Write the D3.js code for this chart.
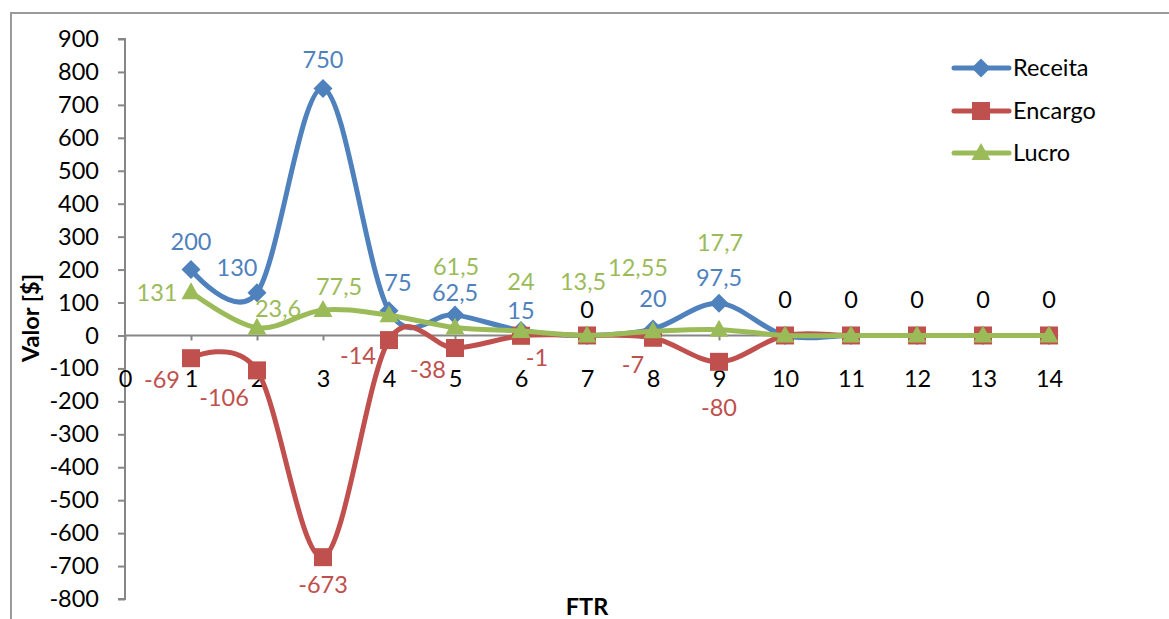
<!DOCTYPE html>
<html>
<head>
<meta charset="utf-8">
<script src="https://cdn.jsdelivr.net/npm/d3@7"></script>
<style>
  html, body { margin: 0; padding: 0; background: #fff; }
  svg { display: block; font-family: Lato, "Open Sans", sans-serif; }
</style>
</head>
<body>
<svg id="chart" width="1169" height="619"></svg>
<script>
// FTR steps on the horizontal axis
const ftr = [1, 2, 3, 4, 5, 6, 7, 8, 9, 10, 11, 12, 13, 14];

// Series values
const receita = [200, 130, 750, 75, 62.5, 15, 0, 20, 97.5, 0, 0, 0, 0, 0];
const encargo = [-69, -106, -673, -14, -38, -1, 0, -7, -80, 0, 0, 0, 0, 0];
const lucro   = [131, 23.6, 77.5, 61.5, 24, 13.5, 0, 12.55, 17.7, 0, 0, 0, 0, 0];

// Axis ticks
const yTicks = [-800, -700, -600, -500, -400, -300, -200, -100, 0, 100, 200, 300, 400, 500, 600, 700, 800, 900];
const xTicks = [0, 1, 2, 3, 4, 5, 6, 7, 8, 9, 10, 11, 12, 13, 14];

// Data-label placement relative to each point (pixels)
const receitaLabelOffsets = [[0,-28],[-20,-25],[0,-29],[9,-28],[0,-22],[0,-20],[0,-26],[0,-30],[0,-26],[0,-36],[0,-36],[0,-36],[0,-36],[0,-36]];
const encargoLabelOffsets = [[-29,22],[-33,27],[0,28],[-31,16],[-27,22],[16,22],null,[-20,27],[0,46],null,null,null,null,null];
const lucroLabelOffsets   = [[-34,0],[21,-19],[16,-23],[67,-48],[66,-46],[62,-49],null,[-15,-64],[1,-87],null,null,null,null,null];

const BLUE = "#4F81BD", RED = "#C0504D", GREEN = "#9BBB59", AXIS = "#868686";
const FONT_SIZE = 23.5;

const svg = d3.select("#chart");

const x = d3.scaleLinear().domain([0, 14]).range([125, 1049]);
const y = d3.scaleLinear().domain([-800, 900]).range([599, 39]);

const fmt = v => String(v).replace(".", ",");

// Chart frame (top and left edges)
svg.append("line").attr("x1", 11).attr("x2", 1169).attr("y1", 13).attr("y2", 13)
  .attr("stroke", "#9a9a9a").attr("stroke-width", 2);
svg.append("line").attr("x1", 11).attr("x2", 11).attr("y1", 12).attr("y2", 619)
  .attr("stroke", "#9a9a9a").attr("stroke-width", 2);

// Y axis
const yAxis = svg.append("g").attr("transform", `translate(${x(0)},0)`)
  .call(d3.axisLeft(y).tickValues(yTicks).tickSize(7).tickPadding(19).tickFormat(d => d));
yAxis.select(".domain").attr("stroke", AXIS).attr("stroke-width", 2).attr("d", `M-7,${y(-800)}H0V${y(900)}H-7`);
yAxis.selectAll(".tick line").attr("stroke", AXIS).attr("stroke-width", 2);
yAxis.selectAll(".tick text").attr("font-size", FONT_SIZE).attr("fill", "#000")
  .attr("font-family", "Lato, sans-serif");

// X axis along zero
const xAxis = svg.append("g").attr("transform", `translate(0,${y(0)})`)
  .call(d3.axisBottom(x).tickValues(xTicks).tickSize(5).tickFormat(d => d));
xAxis.select(".domain").attr("stroke", AXIS).attr("stroke-width", 2).attr("d", `M${x(0)},0H${x(14)}`);
xAxis.selectAll(".tick line").attr("stroke", AXIS).attr("stroke-width", 2);
xAxis.selectAll(".tick text").attr("font-size", FONT_SIZE).attr("fill", "#000")
  .attr("font-family", "Lato, sans-serif")
  .attr("y", 43).attr("dy", "0.35em");

// Axis titles
svg.append("text").attr("transform", `translate(31,318) rotate(-90)`)
  .attr("text-anchor", "middle").attr("dy", "0.35em")
  .attr("font-size", FONT_SIZE).attr("font-weight", "bold").text("Valor [$]");
svg.append("text").attr("x", x(7)).attr("y", 607).attr("dy", "0.35em")
  .attr("text-anchor", "middle").attr("font-size", FONT_SIZE).attr("font-weight", "bold").text("FTR");

// Marker shapes
const markerPath = {
  diamond: "M0,-9.5L9.5,0L0,9.5L-9.5,0Z",
  square: "M-9,-9H9V9H-9Z",
  triangle: "M0,-10L9.5,7L-9.5,7Z"
};

const series = [
  { name: "Receita", values: receita, color: BLUE, marker: "diamond", offsets: receitaLabelOffsets },
  { name: "Encargo", values: encargo, color: RED, marker: "square", offsets: encargoLabelOffsets },
  { name: "Lucro", values: lucro, color: GREEN, marker: "triangle", offsets: lucroLabelOffsets }
];

const line = d3.line()
  .x((d, i) => x(ftr[i]))
  .y(d => y(d))
  .curve(d3.curveCardinal.tension(0));

const plot = svg.append("g");
series.forEach(s => {
  const g = plot.append("g");
  g.append("path").datum(s.values)
    .attr("d", line).attr("fill", "none")
    .attr("stroke", s.color).attr("stroke-width", 5)
    .attr("stroke-linejoin", "round").attr("stroke-linecap", "round");
  g.selectAll("path.m").data(s.values).join("path").attr("class", "m")
    .attr("d", markerPath[s.marker])
    .attr("transform", (d, i) => `translate(${x(ftr[i])},${y(d)})`)
    .attr("fill", s.color);
});

// Data labels
const labels = svg.append("g").attr("font-size", FONT_SIZE).attr("text-anchor", "middle");
series.forEach(s => {
  s.values.forEach((v, i) => {
    const off = s.offsets[i];
    if (!off) return;
    labels.append("text")
      .attr("x", x(ftr[i]) + off[0])
      .attr("y", y(v) + off[1])
      .attr("dy", "0.35em")
      .attr("fill", v === 0 ? "#000" : s.color)
      .text(fmt(v));
  });
});

// Legend
const legend = svg.append("g");
const legendY = [68, 111, 153];
series.forEach((s, i) => {
  const g = legend.append("g").attr("transform", `translate(0,${legendY[i]})`);
  g.append("line").attr("x1", 954).attr("x2", 1009).attr("y1", 0).attr("y2", 0)
    .attr("stroke", s.color).attr("stroke-width", 5).attr("stroke-linecap", "round");
  g.append("path").attr("d", markerPath[s.marker]).attr("transform", "translate(981,0)").attr("fill", s.color);
  g.append("text").attr("x", 1013).attr("y", 0).attr("dy", "0.35em")
    .attr("font-size", FONT_SIZE).attr("fill", "#000").text(s.name);
});
</script>
</body>
</html>
